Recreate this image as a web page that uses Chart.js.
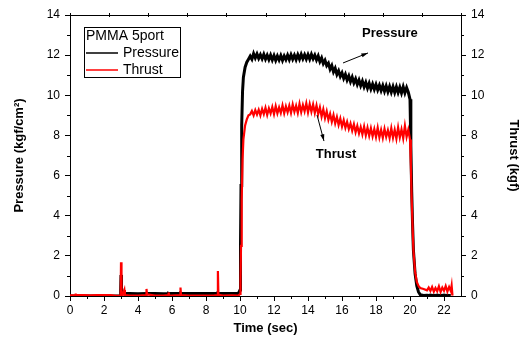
<!DOCTYPE html>
<html>
<head>
<meta charset="utf-8">
<script src="https://cdn.jsdelivr.net/npm/chart.js@4.4.0/dist/chart.umd.min.js"></script>
<style>
  html, body { margin: 0; padding: 0; background: #fff; }
</style>
</head>
<body>
<canvas id="motorTest" width="525" height="341"></canvas>
<script>
// firing test data
const time = [
  0.0, 0.3, 0.32, 0.35, 0.8, 1.2, 1.6, 2.0, 2.4, 2.7, 2.95, 2.98, 3.0, 3.03, 3.1, 3.2, 3.23, 3.5,
  4.0, 4.48, 4.5, 4.53, 5.0, 5.5, 5.78, 5.8, 5.83, 6.0, 6.48, 6.5, 6.53, 7.0, 7.5, 8.0, 8.5,
  8.68, 8.7, 8.73, 9.0, 9.5, 9.9, 10.0,
  10.03, 10.06, 10.1, 10.15, 10.2, 10.3, 10.4, 10.5,
  10.6, 10.7, 10.8, 10.9, 11.0, 11.1, 11.2, 11.3, 11.4, 11.5, 11.6, 11.7, 11.8, 11.9,
  12.0, 12.1, 12.2, 12.3, 12.4, 12.5, 12.6, 12.7, 12.8, 12.9,
  13.0, 13.1, 13.2, 13.3, 13.4, 13.5, 13.6, 13.7, 13.8, 13.9,
  14.0, 14.1, 14.2, 14.3, 14.4, 14.5, 14.6, 14.7, 14.8, 14.9,
  15.0, 15.1, 15.2, 15.3, 15.4, 15.5, 15.6, 15.7, 15.8, 15.9,
  16.0, 16.1, 16.2, 16.3, 16.4, 16.5, 16.6, 16.7, 16.8, 16.9,
  17.0, 17.1, 17.2, 17.3, 17.4, 17.5, 17.6, 17.7, 17.8, 17.9,
  18.0, 18.1, 18.2, 18.3, 18.4, 18.5, 18.6, 18.7, 18.8, 18.9,
  19.0, 19.1, 19.2, 19.3, 19.4, 19.5, 19.6, 19.7, 19.8, 19.9,
  20.0, 20.05, 20.1, 20.15, 20.2, 20.3, 20.4, 20.5, 20.6, 20.8,
  21.0, 21.1, 21.2, 21.3, 21.4, 21.5, 21.6, 21.7, 21.8, 21.9,
  22.0, 22.1, 22.2, 22.3, 22.4, 22.45, 22.5
];

const pressure = [
  0, 0, 0, 0, 0, 0, 0, 0, 0, 0, 0, 0.3, 1.05, 0.4, 0.12, 0.14, 0.12, 0.12,
  0.11, 0.13, 0.13, 0.12, 0.13, 0.11, 0.12, 0.13, 0.12, 0.12, 0.12, 0.13, 0.12, 0.12, 0.13, 0.12, 0.12,
  0.12, 0.13, 0.12, 0.12, 0.13, 0.12, 0.3,
  2.5, 5.5, 8.5, 10.2, 10.9, 11.4, 11.65, 11.8,
  11.95, 11.80, 12.08, 11.86, 12.06, 11.84, 12.02, 11.82, 12.04, 11.80, 12.00, 11.78, 12.00, 11.76,
  11.98, 11.74, 11.96, 11.76, 11.98, 11.74, 11.96, 11.78, 12.00, 11.78,
  12.02, 11.80, 12.00, 11.78, 12.02, 11.80, 12.04, 11.82, 12.02, 11.80,
  12.02, 11.80, 12.04, 11.82, 12.00, 11.76, 11.96, 11.68, 11.86, 11.58,
  11.74, 11.48, 11.60, 11.30, 11.48, 11.16, 11.34, 11.04, 11.22, 10.94,
  11.12, 10.84, 11.04, 10.76, 10.96, 10.68, 10.90, 10.62, 10.82, 10.54,
  10.76, 10.48, 10.70, 10.42, 10.64, 10.36, 10.60, 10.32, 10.56, 10.30,
  10.54, 10.27, 10.50, 10.24, 10.48, 10.20, 10.46, 10.18, 10.44, 10.16,
  10.43, 10.14, 10.42, 10.14, 10.40, 10.12, 10.42, 10.12, 10.38, 10.15,
  9.8, 7.5, 5.2, 3.6, 2.3, 1.1, 0.5, 0.2, 0.07, 0.03,
  0.04, 0.03, 0.05, 0.03, 0.04, 0.03, 0.05, 0.03, 0.04, 0.03,
  0.05, 0.03, 0.04, 0.03, 0.03, null, null
];

const thrust = [
  0.03, 0.05, 0.12, 0.04, 0.05, 0.03, 0.05, 0.04, 0.05, 0.01, 0.02, 0.05, 1.68, 0.1, 0.05, 0.3, 0.05, 0.02,
  0.02, 0.05, 0.35, 0.08, 0.02, 0.02, 0.05, 0.18, 0.03, 0.02, 0.05, 0.42, 0.04, 0.02, 0.02, 0.02, 0.03,
  0.05, 1.25, 0.06, 0.02, 0.03, 0.02, 0.1,
  0.8, 2.5, 4.8, 6.8, 7.8, 8.5, 8.8, 9.0,
  9.05, 9.22, 9.00, 9.26, 9.04, 9.28, 9.00, 9.32, 9.06, 9.38, 9.02, 9.35, 9.10, 9.42,
  9.06, 9.46, 9.10, 9.40, 9.12, 9.50, 9.10, 9.45, 9.15, 9.48,
  9.12, 9.54, 9.18, 9.48, 9.12, 9.58, 9.16, 9.52, 9.20, 9.60,
  9.14, 9.56, 9.18, 9.54, 9.12, 9.50, 9.06, 9.40, 8.94, 9.30,
  8.86, 9.20, 8.78, 9.08, 8.68, 9.02, 8.60, 8.92, 8.52, 8.84,
  8.44, 8.76, 8.38, 8.68, 8.32, 8.60, 8.24, 8.56, 8.16, 8.48,
  8.10, 8.42, 8.05, 8.44, 8.00, 8.38, 7.98, 8.36, 7.95, 8.32,
  7.92, 8.38, 7.90, 8.28, 7.88, 8.33, 7.93, 8.26, 7.87, 8.36,
  7.88, 8.28, 7.84, 8.40, 7.90, 8.30, 7.85, 8.48, 7.92, 8.28,
  7.8, 6.5, 4.8, 3.5, 2.3, 1.2, 0.7, 0.5, 0.4, 0.35,
  0.28, 0.42, 0.25, 0.45, 0.22, 0.40, 0.24, 0.48, 0.20, 0.42,
  0.26, 0.50, 0.22, 0.45, 0.25, 0.52, 0.02
];

const xRange = [0, 23];
const yRange = [0, 14];

// arrow callouts, in data units: [label, labelX, labelY, fromX, fromY, toX, toY]
const callouts = [
  ["Pressure", 18.82, 13.1, 16.06, 11.61, 17.53, 12.11],
  ["Thrust", 15.65, 7.03, 14.53, 9.02, 14.94, 7.72],
];

Chart.defaults.color = "#000";
Chart.defaults.font.family = "'Liberation Sans', Arial, sans-serif";

const pts = (vals) => time.map((t, i) => ({ x: t, y: vals[i] }));

// frame, minor ticks, legend box and callouts
const extras = {
  id: "extras",
  afterDraw(chart) {
    const { ctx, chartArea: a, scales } = chart;
    ctx.save();
    ctx.strokeStyle = "#000";
    ctx.lineWidth = 1;
    ctx.beginPath();
    ctx.moveTo(a.left, a.top + 0.5);
    ctx.lineTo(a.right, a.top + 0.5);
    for (let i = 0; i <= 10; i++) {
      const x = Math.round(a.left + (a.right - a.left) * i / 10) + 0.5;
      ctx.moveTo(x, a.top - 2);
      ctx.lineTo(x, a.top + 2);
    }
    for (let v = 1; v < xRange[1]; v += 2) {
      const x = Math.round(scales.x.getPixelForValue(v)) + 0.5;
      ctx.moveTo(x, a.bottom);
      ctx.lineTo(x, a.bottom + 3);
    }
    for (let v = 1; v < yRange[1]; v += 2) {
      const y = Math.round(scales.y.getPixelForValue(v)) + 0.5;
      ctx.moveTo(a.left - 3, y);
      ctx.lineTo(a.left, y);
      ctx.moveTo(a.right, y);
      ctx.lineTo(a.right + 3, y);
    }
    ctx.stroke();

    // legend
    const lx = a.left + 14, ly = a.top + 12;
    ctx.strokeRect(lx + 0.5, ly + 0.5, 96, 50);
    ctx.font = "14px 'Liberation Sans', Arial, sans-serif";
    ctx.fillStyle = "#000";
    ctx.textBaseline = "middle";
    ctx.textAlign = "left";
    ctx.fillText("PMMA 5port", lx + 2, ly + 9);
    chart.data.datasets.forEach((ds, i) => {
      const y = ly + 26 + i * 17;
      ctx.strokeStyle = ds.borderColor;
      ctx.lineWidth = 1.5;
      ctx.beginPath();
      ctx.moveTo(lx + 2, y);
      ctx.lineTo(lx + 34, y);
      ctx.stroke();
      ctx.fillText(ds.label, lx + 39, y);
    });

    // callouts
    ctx.font = "bold 13px 'Liberation Sans', Arial, sans-serif";
    ctx.textAlign = "center";
    ctx.strokeStyle = "#000";
    ctx.fillStyle = "#000";
    ctx.lineWidth = 1;
    callouts.forEach(([label, tx, ty, x0, y0, x1, y1]) => {
      ctx.fillText(label, scales.x.getPixelForValue(tx), scales.y.getPixelForValue(ty));
      const px0 = scales.x.getPixelForValue(x0), py0 = scales.y.getPixelForValue(y0);
      const px1 = scales.x.getPixelForValue(x1), py1 = scales.y.getPixelForValue(y1);
      const ang = Math.atan2(py1 - py0, px1 - px0);
      ctx.beginPath();
      ctx.moveTo(px0, py0);
      ctx.lineTo(px1, py1);
      ctx.stroke();
      ctx.beginPath();
      ctx.moveTo(px1, py1);
      ctx.lineTo(px1 - 7 * Math.cos(ang - 0.3), py1 - 7 * Math.sin(ang - 0.3));
      ctx.lineTo(px1 - 7 * Math.cos(ang + 0.3), py1 - 7 * Math.sin(ang + 0.3));
      ctx.closePath();
      ctx.fill();
    });
    ctx.restore();
  },
};

const axisGrid = { drawOnChartArea: false, drawTicks: true, tickLength: 5, color: "#000" };
const axisBorder = { display: true, color: "#000", width: 1 };

new Chart(document.getElementById("motorTest"), {
  type: "line",
  data: {
    datasets: [
      {
        label: "Pressure",
        data: pts(pressure),
        borderColor: "#000000",
        borderWidth: 3,
        pointRadius: 0,
        tension: 0,
        yAxisID: "y",
        order: 1,
      },
      {
        label: "Thrust",
        data: pts(thrust),
        borderColor: "#ff0000",
        borderWidth: 2.2,
        pointRadius: 0,
        tension: 0,
        yAxisID: "y2",
        order: 0,
      },
    ],
  },
  options: {
    responsive: false,
    animation: false,
    layout: { padding: { top: 15 } },
    plugins: {
      legend: { display: false },
      tooltip: { enabled: false },
    },
    scales: {
      x: {
        type: "linear",
        min: xRange[0],
        max: xRange[1],
        grid: axisGrid,
        border: axisBorder,
        ticks: { stepSize: 2, includeBounds: false, maxRotation: 0, autoSkip: false, padding: 2, font: { size: 12 } },
        title: { display: true, text: "Time (sec)", font: { size: 13, weight: "bold" }, padding: { top: 0, bottom: 5 } },
        afterFit: (s) => { s.height = 45; },
      },
      y: {
        position: "left",
        min: yRange[0],
        max: yRange[1],
        grid: axisGrid,
        border: axisBorder,
        ticks: { stepSize: 2, padding: 5, font: { size: 12 } },
        title: { display: true, text: "Pressure (kgf/cm²)", font: { size: 13, weight: "bold" }, padding: { top: 12, bottom: 0 } },
        afterFit: (s) => { s.width = 70; },
      },
      y2: {
        position: "right",
        min: yRange[0],
        max: yRange[1],
        grid: axisGrid,
        border: axisBorder,
        ticks: { stepSize: 2, padding: 5, font: { size: 12 } },
        title: { display: true, text: "Thrust (kgf)", font: { size: 13, weight: "bold" }, padding: { top: 4, bottom: 0 } },
        afterFit: (s) => { s.width = 64; },
      },
    },
  },
  plugins: [extras],
});
</script>
</body>
</html>
